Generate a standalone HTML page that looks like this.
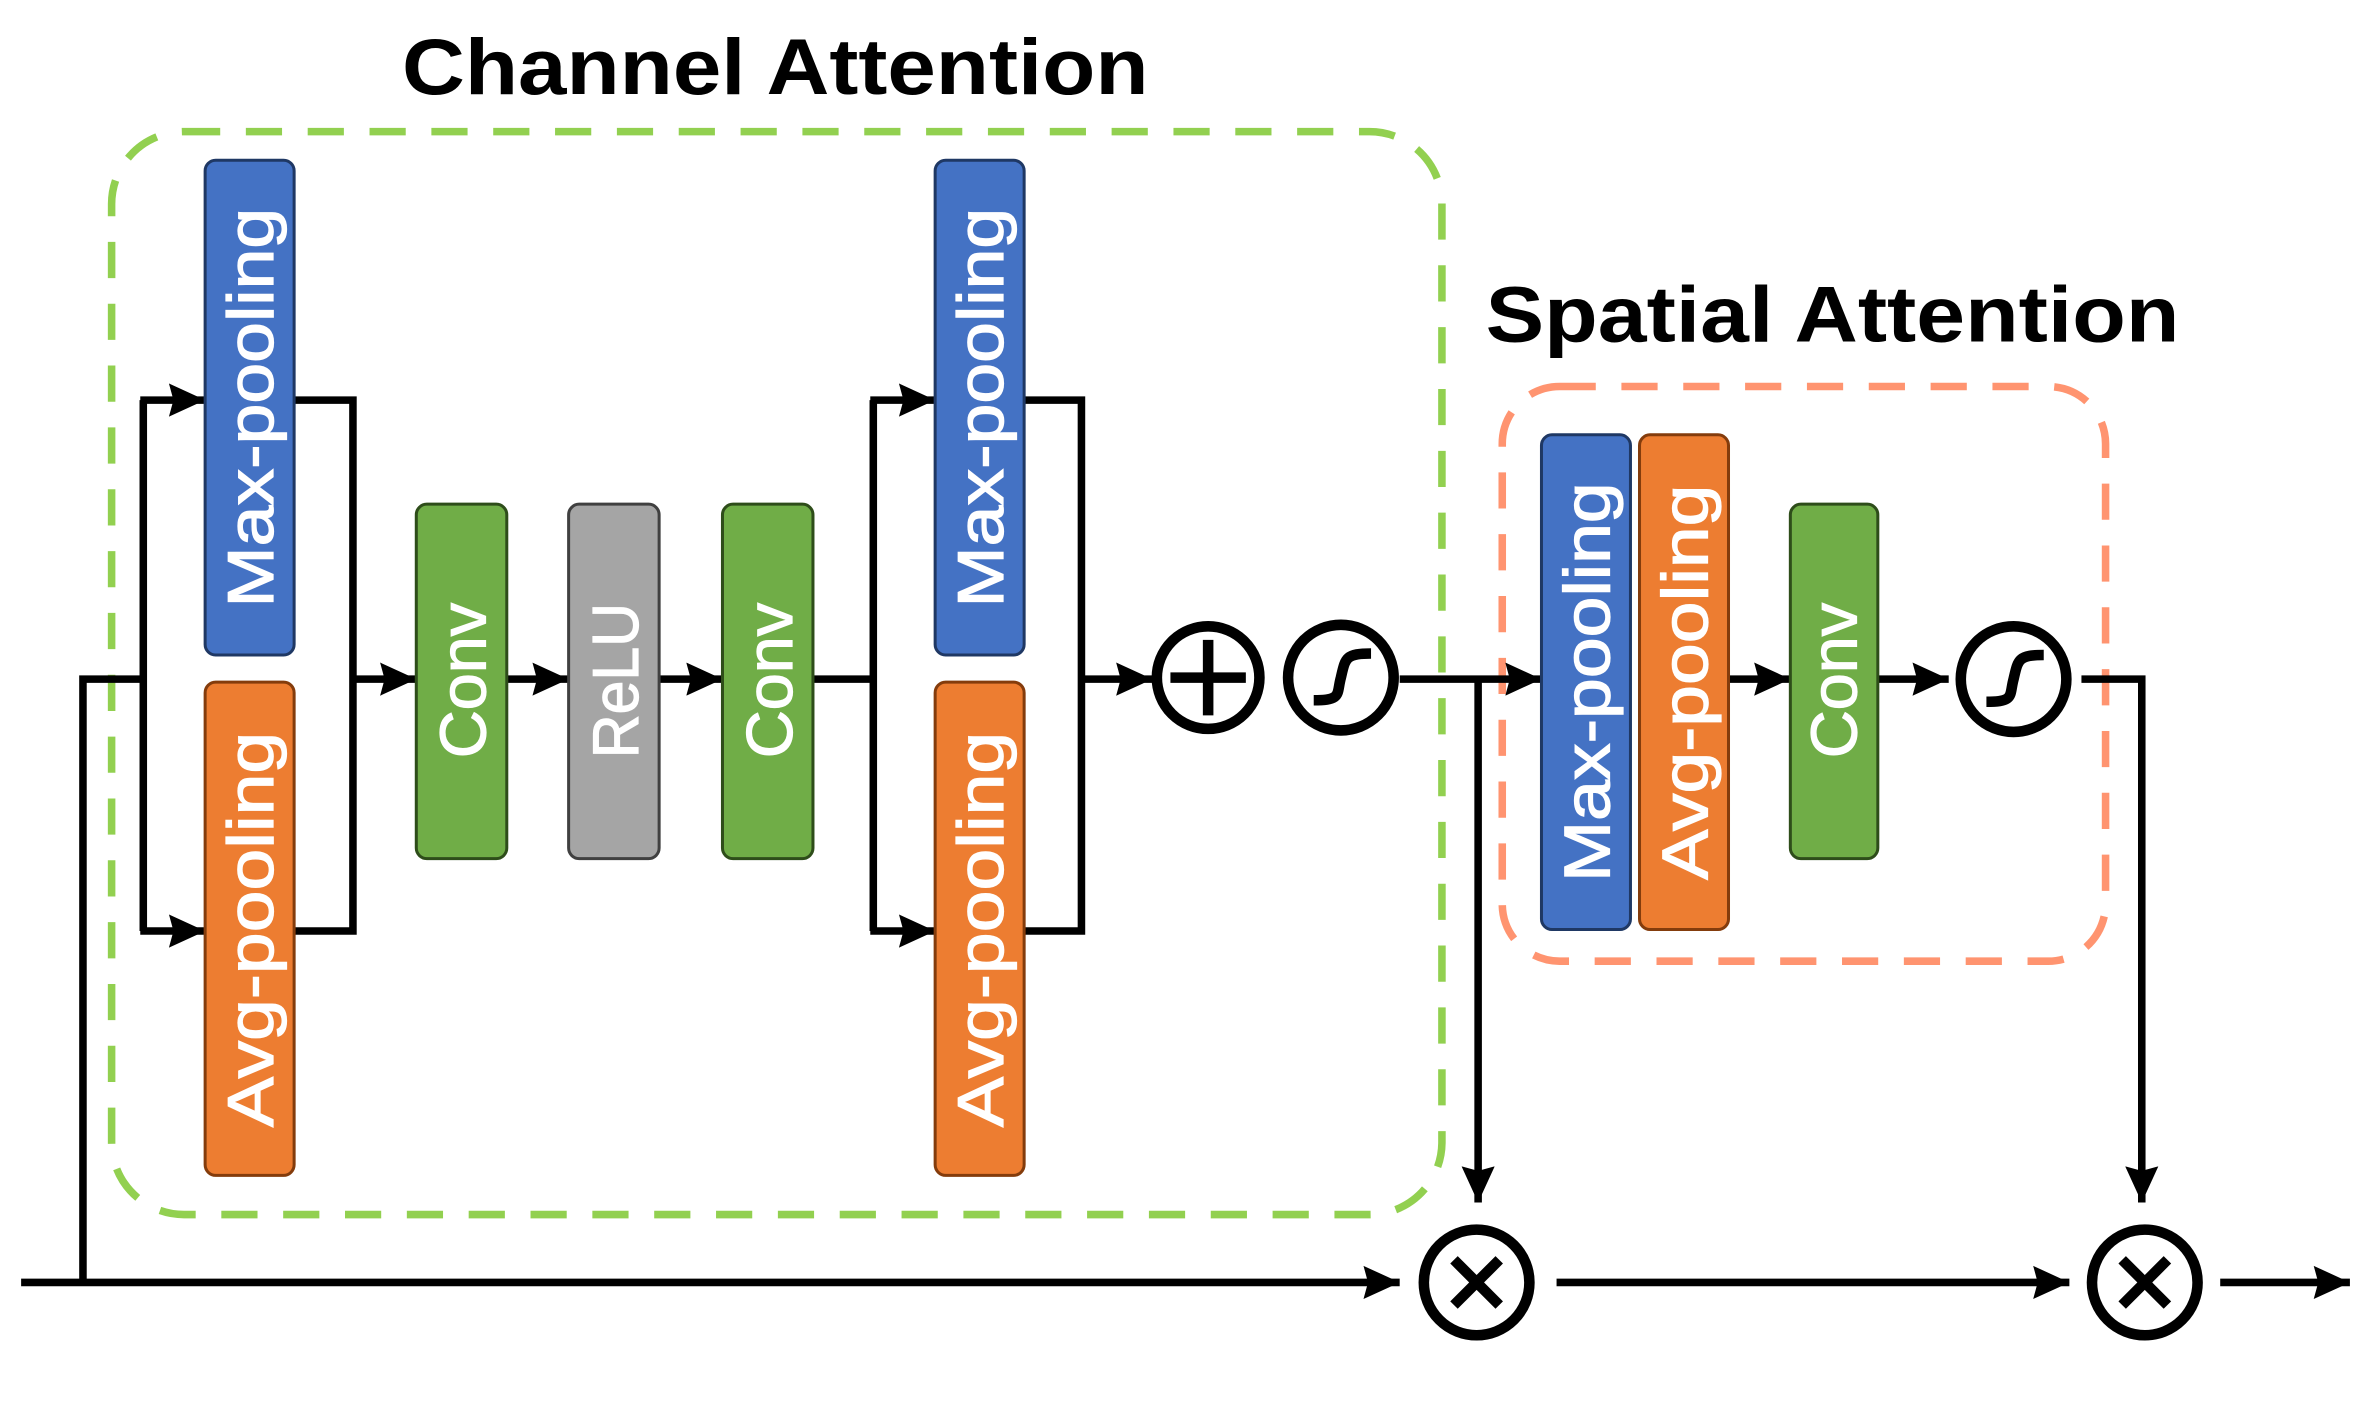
<!DOCTYPE html>
<html><head><meta charset="utf-8"><style>
html,body{margin:0;padding:0;background:#fff;}
svg{display:block;}
text{font-family:"Liberation Sans","DejaVu Sans",sans-serif;}
</style></head><body>
<svg width="2365" height="1402" viewBox="0 0 1568 929" xmlns="http://www.w3.org/2000/svg">
<defs>
<marker id="a" markerWidth="24" markerHeight="24" refX="24" refY="12" orient="auto" markerUnits="userSpaceOnUse">
<path d="M0,1 L24,12 L0,23 L3,12 Z" fill="#000"/>
</marker>
</defs>
<text x="514" y="62" font-size="52" font-weight="bold" text-anchor="middle" textLength="495" lengthAdjust="spacingAndGlyphs">Channel Attention</text>
<text x="1215" y="226" font-size="52" font-weight="bold" text-anchor="middle" textLength="460" lengthAdjust="spacingAndGlyphs">Spatial Attention</text>
<rect x="74" y="87" width="882" height="718" rx="48" fill="none" stroke="#92d050" stroke-width="5" stroke-dasharray="24,17"/>
<rect x="996" y="256" width="400" height="381" rx="38" fill="none" stroke="#ff9470" stroke-width="5" stroke-dasharray="24,17"/>
<g stroke="#000" stroke-width="5" fill="none">
<polyline points="14,850 928,850" marker-end="url(#a)"/>
<polyline points="55,850 55,450 95,450"/>
<polyline points="95,265 95,617"/>
<line x1="93" y1="265" x2="136" y2="265" marker-end="url(#a)"/>
<line x1="93" y1="617" x2="136" y2="617" marker-end="url(#a)"/>
<polyline points="195,265 234,265 234,617 195,617"/>
<line x1="232" y1="450" x2="276" y2="450" marker-end="url(#a)"/>
<line x1="336" y1="450" x2="377" y2="450" marker-end="url(#a)"/>
<line x1="437" y1="450" x2="479" y2="450" marker-end="url(#a)"/>
<line x1="539" y1="450" x2="581" y2="450"/>
<polyline points="579,265 579,617"/>
<line x1="577" y1="265" x2="620" y2="265" marker-end="url(#a)"/>
<line x1="577" y1="617" x2="620" y2="617" marker-end="url(#a)"/>
<polyline points="679,265 717,265 717,617 679,617"/>
<line x1="715" y1="450" x2="764" y2="450" marker-end="url(#a)"/>
<line x1="928" y1="450" x2="1022" y2="450" marker-end="url(#a)"/>
<polyline points="980,448 980,797" marker-end="url(#a)"/>
<line x1="1146" y1="450" x2="1187" y2="450" marker-end="url(#a)"/>
<line x1="1245" y1="450" x2="1292" y2="450" marker-end="url(#a)"/>
<polyline points="1380,450 1420,450 1420,797" marker-end="url(#a)"/>
<line x1="1032" y1="850" x2="1372" y2="850" marker-end="url(#a)"/>
<line x1="1472" y1="850" x2="1558" y2="850" marker-end="url(#a)"/>
</g>
<g stroke-width="2">
<rect x="136" y="106" width="59" height="328" rx="7" fill="#4472c4" stroke="#1f3864"/>
<rect x="136" y="452" width="59" height="327" rx="7" fill="#ed7d31" stroke="#843c0c"/>
<rect x="276" y="334" width="60" height="235" rx="7" fill="#70ad47" stroke="#2e4d1a"/>
<rect x="377" y="334" width="60" height="235" rx="7" fill="#a5a5a5" stroke="#404040"/>
<rect x="479" y="334" width="60" height="235" rx="7" fill="#70ad47" stroke="#2e4d1a"/>
<rect x="620" y="106" width="59" height="328" rx="7" fill="#4472c4" stroke="#1f3864"/>
<rect x="620" y="452" width="59" height="327" rx="7" fill="#ed7d31" stroke="#843c0c"/>
<rect x="1022" y="288" width="59" height="328" rx="7" fill="#4472c4" stroke="#1f3864"/>
<rect x="1087" y="288" width="59" height="328" rx="7" fill="#ed7d31" stroke="#843c0c"/>
<rect x="1187" y="334" width="58" height="235" rx="7" fill="#70ad47" stroke="#2e4d1a"/>
</g>
<g fill="#fff" font-size="43" text-anchor="middle" stroke="#fff" stroke-width="0.8">
<text transform="translate(181,270) rotate(-90)" textLength="265" lengthAdjust="spacingAndGlyphs">Max-pooling</text>
<text transform="translate(181,616) rotate(-90)" textLength="262" lengthAdjust="spacingAndGlyphs">Avg-pooling</text>
<text transform="translate(322,451) rotate(-90)" textLength="103" lengthAdjust="spacingAndGlyphs">Conv</text>
<text transform="translate(423,451) rotate(-90)" textLength="103" lengthAdjust="spacingAndGlyphs">ReLU</text>
<text transform="translate(525,451) rotate(-90)" textLength="103" lengthAdjust="spacingAndGlyphs">Conv</text>
<text transform="translate(665,270) rotate(-90)" textLength="265" lengthAdjust="spacingAndGlyphs">Max-pooling</text>
<text transform="translate(665,616) rotate(-90)" textLength="262" lengthAdjust="spacingAndGlyphs">Avg-pooling</text>
<text transform="translate(1067,452) rotate(-90)" textLength="265" lengthAdjust="spacingAndGlyphs">Max-pooling</text>
<text transform="translate(1132,452) rotate(-90)" textLength="262" lengthAdjust="spacingAndGlyphs">Avg-pooling</text>
<text transform="translate(1231,451) rotate(-90)" textLength="103" lengthAdjust="spacingAndGlyphs">Conv</text>
</g>
<g fill="#fff" stroke="#000" stroke-width="7">
<circle cx="801" cy="449" r="34"/>
<circle cx="889" cy="449" r="35"/>
<circle cx="1335" cy="450" r="35"/>
<circle cx="979" cy="850" r="35"/>
<circle cx="1422" cy="850" r="35"/>
</g>
<g stroke="#000" stroke-width="7" fill="none">
<line x1="801" y1="424" x2="801" y2="474"/><line x1="776" y1="449" x2="826" y2="449"/>
<path d="M871,464 C890,464 886,460 889,449 C892,436 892,433 909,433"/>
<path d="M1317,465 C1336,465 1332,461 1335,450 C1338,437 1338,434 1355,434"/>
<line x1="964" y1="835" x2="994" y2="865"/><line x1="994" y1="835" x2="964" y2="865"/>
<line x1="1407" y1="835" x2="1437" y2="865"/><line x1="1437" y1="835" x2="1407" y2="865"/>
</g>
</svg>
</body></html>
